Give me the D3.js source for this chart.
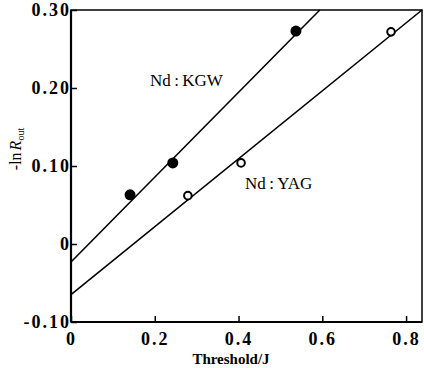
<!DOCTYPE html>
<html><head><meta charset="utf-8">
<script src="https://cdn.jsdelivr.net/npm/d3@7"></script>
<style>body{margin:0;background:#fff;} svg{display:block;}</style>
</head><body>
<svg id="c" width="424" height="368"></svg>
<script>
// Data
const kgwX = [0.141, 0.243, 0.537];
const kgwY = [0.063, 0.104, 0.273];
const yagX = [0.279, 0.406, 0.764];
const yagY = [0.062, 0.104, 0.272];
// fitted lines (endpoints in data units)
const kgwFitX = [0, 0.594];
const kgwFitY = [-0.023, 0.30];
const yagFitX = [0, 0.838];
const yagFitY = [-0.065, 0.30];
const xTicks = [0, 0.2, 0.4, 0.6, 0.8];
const xTickLabels = ["0", "0.2", "0.4", "0.6", "0.8"];
const yTicks = [-0.10, 0, 0.10, 0.20, 0.30];
const yTickLabels = ["-0.10", "0", "0.10", "0.20", "0.30"];

const svg = d3.select("#c");
const L = 71, R = 422, T = 10, B = 322;
const x = d3.scaleLinear().domain([0, 0.838]).range([L, R]);
const y = d3.scaleLinear().domain([-0.10, 0.30]).range([B, T]);
const font = "'Liberation Serif', 'Times New Roman', serif";

// frame
svg.append("rect").attr("x", L).attr("y", T).attr("width", R - L).attr("height", B - T)
  .attr("fill", "none").attr("stroke", "#000").attr("stroke-width", 1.5);
svg.append("line").attr("x1", L).attr("x2", L).attr("y1", T).attr("y2", B).attr("stroke", "#000").attr("stroke-width", 2.2);
svg.append("line").attr("x1", L).attr("x2", R).attr("y1", B).attr("y2", B).attr("stroke", "#000").attr("stroke-width", 2.2);

// x axis
const xa = d3.axisBottom(x).tickValues(xTicks).tickSize(-6).tickPadding(10)
  .tickFormat((d, i) => xTickLabels[i]);
const gx = svg.append("g").attr("transform", `translate(0,${B})`).call(xa);
gx.select(".domain").remove();
gx.selectAll(".tick line").attr("stroke-width", 1.5);
gx.selectAll(".tick text").attr("font-family", font).attr("font-size", 18).attr("font-weight", "bold")
  .attr("letter-spacing", 2).attr("fill", "#000");

// y axis
const ya = d3.axisLeft(y).tickValues(yTicks).tickSize(-6).tickPadding(0)
  .tickFormat((d, i) => yTickLabels[i]);
const gy = svg.append("g").attr("transform", `translate(${L},0)`).call(ya);
gy.select(".domain").remove();
gy.selectAll(".tick line").attr("stroke-width", 1.5);
gy.selectAll(".tick text").attr("font-family", font).attr("font-size", 18).attr("font-weight", "bold")
  .attr("letter-spacing", 2).attr("fill", "#000");

// fit lines
const line = d3.line().x(d => x(d[0])).y(d => y(d[1]));
svg.append("path").datum(kgwFitX.map((v, i) => [v, kgwFitY[i]])).attr("d", line)
  .attr("fill", "none").attr("stroke", "#000").attr("stroke-width", 1.6);
svg.append("path").datum(yagFitX.map((v, i) => [v, yagFitY[i]])).attr("d", line)
  .attr("fill", "none").attr("stroke", "#000").attr("stroke-width", 1.6);

// points
svg.selectAll(".kgw").data(kgwX).enter().append("circle")
  .attr("cx", d => x(d)).attr("cy", (d, i) => y(kgwY[i])).attr("r", 5.5).attr("fill", "#000");
svg.selectAll(".yag").data(yagX).enter().append("circle")
  .attr("cx", d => x(d)).attr("cy", (d, i) => y(yagY[i])).attr("r", 3.8)
  .attr("fill", "#fff").attr("stroke", "#000").attr("stroke-width", 2);

// series labels
svg.append("text").attr("x", 150).attr("y", 86).attr("font-family", font).attr("font-size", 17)
  .text("Nd\u2009:\u2009KGW");
svg.append("text").attr("x", 245).attr("y", 189).attr("font-family", font).attr("font-size", 17)
  .text("Nd\u2009:\u2009YAG");

// axis titles
svg.append("text").attr("x", 231).attr("y", 364).attr("text-anchor", "middle")
  .attr("font-family", font).attr("font-size", 15).attr("font-weight", "bold").text("Threshold/J");
const yl = svg.append("text").attr("transform", "translate(21,149) rotate(-90)")
  .attr("text-anchor", "middle").attr("font-family", font).attr("font-size", 16);
yl.append("tspan").text("-ln");
yl.append("tspan").attr("font-style", "italic").attr("dx", 2).text("R");
yl.append("tspan").attr("font-size", 10).attr("dy", 3).text("out");
</script>
</body></html>
